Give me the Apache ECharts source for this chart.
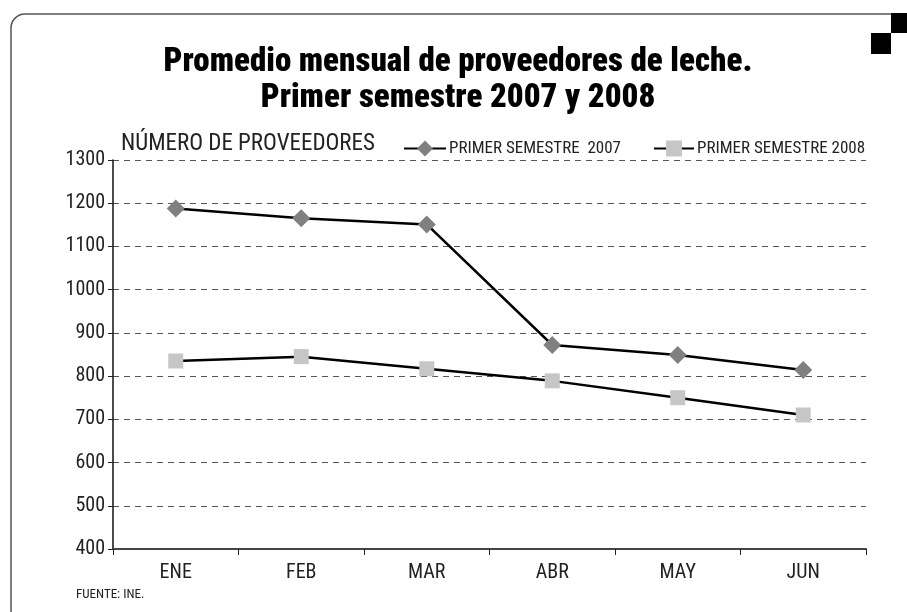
<!DOCTYPE html>
<html>
<head>
<meta charset="utf-8">
<script src="https://cdn.jsdelivr.net/npm/echarts@6/dist/echarts.min.js"></script>
<style>
  html, body { margin: 0; padding: 0; background: #fff; }
  #chart { width: 907px; height: 612px; }
</style>
</head>
<body>
<div id="chart"></div>
<script>
const months = ['ENE', 'FEB', 'MAR', 'ABR', 'MAY', 'JUN']
const sem2007 = [1188, 1165, 1151, 872, 849, 814]
const sem2008 = [835, 845, 817, 789, 750, 710]
const yTicks = [400, 500, 600, 700, 800, 900, 1000, 1100, 1200, 1300]

const font = '"Liberation Sans Narrow", "Roboto Condensed", "Liberation Sans", sans-serif'

const myChart = echarts.init(document.getElementById('chart'))

const option = {
  backgroundColor: '#fff',
  animation: false,
  textStyle: { fontFamily: font },
  title: {
    text: 'Promedio mensual de proveedores de leche.\nPrimer semestre 2007 y 2008',
    left: 453,
    top: 40,
    textAlign: 'center',
    textStyle: {
      fontFamily: font,
      fontSize: 33,
      fontWeight: 900,
      color: '#000',
      lineHeight: 36
    }
  },
  legend: [
    {
      data: ['PRIMER SEMESTRE  2007'],
      left: 398,
      top: 135,
      itemWidth: 42,
      itemHeight: 20,
      itemGap: 4,
      textStyle: { fontFamily: font, fontSize: 17, color: '#222', padding: [0, 0, 0, -2] }
    },
    {
      data: ['PRIMER SEMESTRE 2008'],
      left: 648,
      top: 135,
      itemWidth: 40,
      itemHeight: 20,
      textStyle: { fontFamily: font, fontSize: 17, color: '#222', padding: [0, 0, 0, -2] }
    }
  ],
  grid: { left: 113, right: 41, top: 160, bottom: 63 },
  xAxis: {
    type: 'category',
    data: months,
    boundaryGap: true,
    axisLine: { lineStyle: { color: '#444', width: 2 } },
    axisTick: { show: true, length: 6, lineStyle: { color: '#222' } },
    axisLabel: { fontFamily: font, fontSize: 20, color: '#222', margin: 14 }
  },
  yAxis: {
    type: 'value',
    min: yTicks[0],
    max: yTicks[yTicks.length - 1],
    interval: 100,
    name: 'NÚMERO DE PROVEEDORES',
    nameLocation: 'end',
    nameGap: 4,
    nameTextStyle: { fontFamily: font, fontSize: 23, color: '#222', align: 'left', padding: [0, 0, 0, 8] },
    axisLine: { show: true, lineStyle: { color: '#111', width: 1.5 } },
    axisTick: { show: true, length: 5, lineStyle: { color: '#222' } },
    axisLabel: {
      fontFamily: font, fontSize: 20, color: '#222', margin: 8,
      formatter: v => String(v)
    },
    splitLine: { lineStyle: { color: '#555', type: [6, 5], width: 1.2 } }
  },
  series: [
    {
      name: 'PRIMER SEMESTRE  2007',
      type: 'line',
      data: sem2007,
      symbol: 'diamond',
      symbolSize: 18,
      itemStyle: { color: '#808080' },
      lineStyle: { color: '#000', width: 2.5 }
    },
    {
      name: 'PRIMER SEMESTRE 2008',
      type: 'line',
      data: sem2008,
      symbol: 'rect',
      symbolSize: 15,
      itemStyle: { color: '#c6c6c6' },
      lineStyle: { color: '#000', width: 2.5 }
    }
  ],
  graphic: [
    {
      type: 'rect',
      shape: { x: 11, y: 14, width: 940, height: 610, r: 14 },
      style: { fill: 'none', stroke: '#555', lineWidth: 1.5 },
      z: -1
    },
    { type: 'rect', shape: { x: 891, y: 13, width: 16, height: 20 }, style: { fill: '#000' } },
    { type: 'rect', shape: { x: 871, y: 33, width: 20, height: 21 }, style: { fill: '#000' } },
    {
      type: 'text',
      left: 76,
      top: 588,
      style: { text: 'FUENTE: INE.', fontFamily: font, fontSize: 13, fill: '#222' }
    }
  ]
}

myChart.setOption(option)
</script>
</body>
</html>
